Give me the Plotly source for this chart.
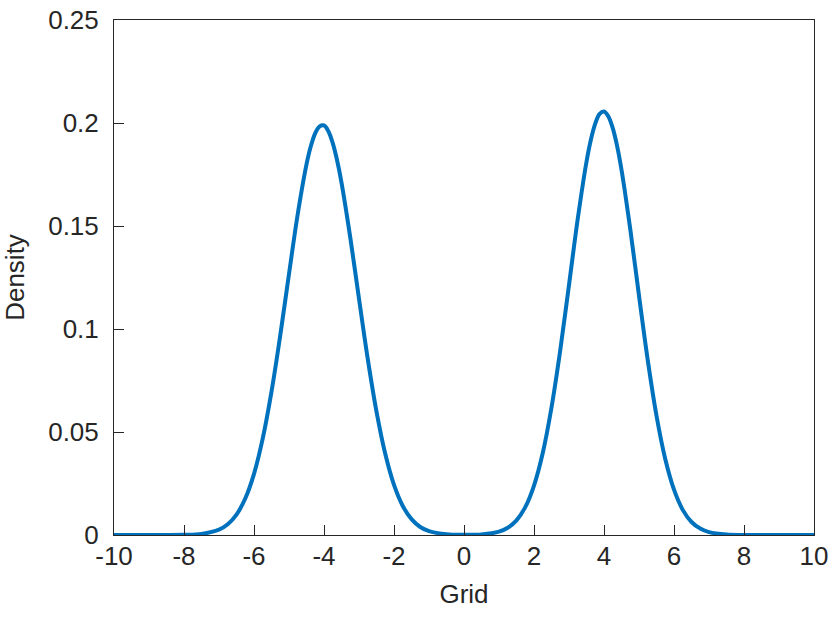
import plotly.graph_objects as go

grid = [-10, -9, -8, -7.5, -7, -6.75, -6.5, -6.25, -6, -5.75, -5.5, -5.25, -5, -4.75, -4.5,
        -4.375, -4.25, -4.125, -4, -3.875, -3.75, -3.625, -3.5,
        -3.25, -3, -2.75, -2.5, -2.25, -2, -1.75, -1.5, -1.25, -1, -0.5,
        0, 0.5, 1, 1.25, 1.5, 1.75, 2, 2.25, 2.5, 2.75, 3, 3.25, 3.5,
        3.625, 3.75, 3.875, 4, 4.125, 4.25, 4.375, 4.5,
        4.75, 5, 5.25, 5.5, 5.75, 6, 6.25, 6.5, 6.75, 7, 7.5, 8, 9, 10]
density = [0.0, 0.000001, 0.00008, 0.00052, 0.00257, 0.0052, 0.0099, 0.0177, 0.0297, 0.0469, 0.0696, 0.0969, 0.1267, 0.1558, 0.1799,
           0.1888, 0.1951, 0.1984, 0.1988, 0.1960, 0.1902, 0.1818, 0.1711,
           0.1445, 0.1147, 0.0855, 0.0599, 0.0394, 0.0243, 0.0141, 0.0077, 0.0039, 0.0019, 0.00036,
           0.00009, 0.00027, 0.0016, 0.0035, 0.0071, 0.0135, 0.0240, 0.0398, 0.0619, 0.0897, 0.1214, 0.1535, 0.1812,
           0.1919, 0.1997, 0.2044, 0.2056, 0.2032, 0.1975, 0.1888, 0.1773,
           0.1485, 0.1162, 0.0849, 0.0579, 0.0369, 0.0220, 0.0122, 0.0063, 0.0031, 0.0014, 0.00023, 0.00003, 0.0, 0.0]

x_ticks = [-10, -8, -6, -4, -2, 0, 2, 4, 6, 8, 10]
x_tick_labels = ["-10", "-8", "-6", "-4", "-2", "0", "2", "4", "6", "8", "10"]
y_ticks = [0, 0.05, 0.1, 0.15, 0.2, 0.25]
y_tick_labels = ["0", "0.05", "0.1", "0.15", "0.2", "0.25"]

fig = go.Figure()
fig.add_trace(go.Scatter(x=grid, y=density, mode="lines",
                         line=dict(color="#0072BD", width=4, shape="spline", smoothing=1.0),
                         showlegend=False))

font = dict(family="Liberation Sans, Arial, Helvetica, sans-serif", size=26, color="#262626")
fig.update_layout(
    width=830, height=618,
    margin=dict(l=114, r=16, t=20, b=83, autoexpand=False),
    paper_bgcolor="white", plot_bgcolor="white",
    font=font,
)
fig.update_xaxes(range=[-10, 10], tickvals=x_ticks, ticktext=x_tick_labels,
                 ticks="inside", ticklen=10, tickwidth=1, tickcolor="#262626",
                 showline=True, linecolor="#262626", linewidth=1, mirror=True,
                 showgrid=False, zeroline=False, automargin=False,
                 tickfont=font, ticklabelstandoff=-2,
                 title=dict(text="Grid", font=font, standoff=14))
fig.update_yaxes(range=[0, 0.25], tickvals=y_ticks, ticktext=y_tick_labels,
                 ticks="inside", ticklen=10, tickwidth=1, tickcolor="#262626",
                 showline=True, linecolor="#262626", linewidth=1, mirror=True,
                 showgrid=False, zeroline=False, automargin=False,
                 tickfont=font, ticklabelstandoff=9,
                 title=dict(text="Density", font=font, standoff=17))

fig.write_html("out.html",
               config={"displayModeBar": False},
               post_script="document.body.style.margin='0px';document.body.style.overflow='hidden';")
